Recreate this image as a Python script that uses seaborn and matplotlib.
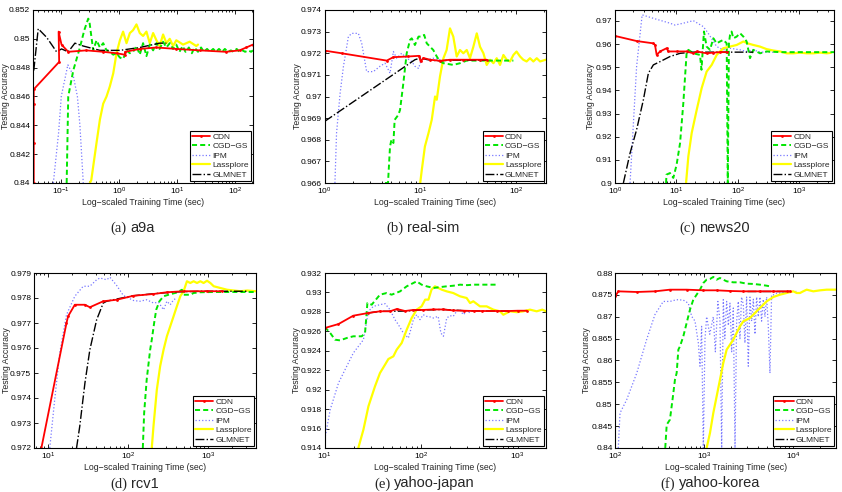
import matplotlib
matplotlib.use("Agg")
import matplotlib.pyplot as plt
import seaborn as sns
import pandas as pd
from matplotlib.ticker import FixedLocator, FuncFormatter, LogLocator, NullFormatter
from matplotlib.lines import Line2D

# ---------------- data (times in sec, testing accuracy) ----------------
methods = ["CDN", "CGD−GS", "IPM", "Lassplore", "GLMNET"]

# (a) a9a
a_cdn_t = [0.0335, 0.0335, 0.0335, 0.0335, 0.092, 0.090, 0.101, 0.132, 0.27, 0.53, 0.90, 1.25, 1.27, 2.27, 4.4, 9.7, 24.5, 70, 120, 157, 204]
a_cdn_y = [0.8400, 0.8428, 0.8455, 0.8465, 0.8484, 0.8505, 0.8496, 0.8491, 0.8492, 0.8491, 0.8490, 0.8489, 0.8491, 0.8493, 0.8494, 0.8493, 0.8492, 0.8491, 0.8492, 0.8494, 0.8496]
a_cgd_t = [0.124, 0.132, 0.161, 0.21, 0.25, 0.292, 0.304, 0.356, 0.407, 0.465, 0.53, 0.605, 0.69, 0.79, 0.90, 1.03, 1.17, 1.34, 1.53, 1.74, 1.99, 2.27, 2.59, 2.96, 3.38, 3.86, 4.4, 5.0, 5.74, 6.55, 7.48, 8.54, 9.7, 11, 12.5, 14, 16, 18, 20, 23, 26, 29, 33, 37, 42, 47, 53, 60, 67, 75, 85, 95, 107, 120, 135, 150, 170, 190, 204]
a_cgd_y = [0.8400, 0.8460, 0.8478, 0.8494, 0.8506, 0.8514, 0.8513, 0.8492, 0.8499, 0.8494, 0.8497, 0.8492, 0.8491, 0.8489, 0.8490, 0.8487, 0.8486, 0.8492, 0.8490, 0.8491, 0.8495, 0.8489, 0.8497, 0.8488, 0.8496, 0.8492, 0.8497, 0.8493, 0.8498, 0.8494, 0.8497, 0.8493, 0.8496, 0.8491, 0.8495, 0.8491, 0.8494, 0.8490, 0.8494, 0.8491, 0.8494, 0.8491, 0.8493, 0.8491, 0.8493, 0.8491, 0.8493, 0.8491, 0.8493, 0.8491, 0.8492, 0.8491, 0.8493, 0.8491, 0.8492, 0.8491, 0.8492, 0.8491, 0.8492]
a_ipm_t = [0.073, 0.09, 0.10, 0.13, 0.16, 0.19, 0.21, 0.24]
a_ipm_y = [0.8400, 0.8435, 0.8460, 0.8482, 0.8475, 0.8460, 0.8440, 0.8400]
a_las_t = [0.312, 0.33, 0.407, 0.465, 0.53, 0.605, 0.69, 0.79, 0.90, 1.03, 1.17, 1.34, 1.53, 1.74, 1.99, 2.27, 2.59, 2.96, 3.38, 3.86, 4.4, 5.0, 5.74, 6.55, 7.48, 8.54, 9.7, 12.7, 16.5, 21.5, 23]
a_las_y = [0.8400, 0.8402, 0.8428, 0.8444, 0.8455, 0.8460, 0.8467, 0.8476, 0.8490, 0.8499, 0.8505, 0.8497, 0.8504, 0.8506, 0.8510, 0.8504, 0.8502, 0.8505, 0.8497, 0.8504, 0.8499, 0.8495, 0.8503, 0.8497, 0.8500, 0.8495, 0.8499, 0.8496, 0.8498, 0.8495, 0.8496]
a_glm_t = [0.0335, 0.040, 0.056, 0.083, 0.101, 0.132, 0.172, 0.24, 0.465, 1.03, 2.27, 5.0, 6.55]
a_glm_y = [0.8478, 0.8507, 0.8501, 0.8491, 0.8493, 0.8491, 0.8497, 0.8495, 0.8492, 0.8492, 0.8494, 0.8497, 0.8497]
a_yticks = [0.84, 0.842, 0.844, 0.846, 0.848, 0.85, 0.852]

# (b) real-sim
b_cdn_t = [1.0, 1.5, 4.46, 5.24, 7.5, 9.7, 10.1, 10.8, 12.7, 16.1, 20.5, 28.3, 42.3, 49.7]
b_cdn_y = [0.97212, 0.9720, 0.97166, 0.97182, 0.97185, 0.97188, 0.97162, 0.97178, 0.9717, 0.97165, 0.9717, 0.9717, 0.9717, 0.9717]
b_cgd_t = [4.28, 4.6, 4.83, 5.0, 5.24, 5.4, 5.9, 6.15, 6.66, 7.22, 7.83, 8.15, 8.8, 9.6, 10.4, 11.0, 11.7, 12.7, 13.7, 14.9, 16.1, 17.5, 22.2, 26.1, 30.7, 42.3, 68.5, 94.5]
b_cgd_y = [0.9660, 0.9660, 0.96769, 0.9680, 0.96785, 0.96892, 0.96915, 0.96938, 0.97062, 0.9720, 0.97262, 0.97269, 0.97238, 0.97277, 0.97277, 0.97285, 0.97246, 0.9723, 0.97215, 0.97185, 0.97162, 0.97154, 0.97146, 0.97154, 0.97166, 0.97166, 0.97166, 0.97166]
b_ipm_t = [1.28, 1.33, 1.45, 1.57, 1.77, 1.92, 2.25, 2.44, 2.75, 3.23, 3.80, 4.28, 4.83, 5.24, 5.67, 6.4, 7.22, 8.15, 8.8, 9.6, 10.4, 11.7, 13.7, 16.1, 18.9]
b_ipm_y = [0.9660, 0.9683, 0.97015, 0.97138, 0.97277, 0.97292, 0.97292, 0.97246, 0.97115, 0.97115, 0.9714, 0.97154, 0.97108, 0.97208, 0.97177, 0.9720, 0.97177, 0.97162, 0.9714, 0.9713, 0.97177, 0.9717, 0.97177, 0.9717, 0.9717]
b_las_t = [10.0, 10.4, 11.2, 12.2, 13.2, 14.3, 14.9, 16.1, 17.5, 18.9, 20.5, 22.2, 24.1, 26.1, 28.3, 30.7, 33.2, 36.0, 39.1, 42.3, 45.9, 49.7, 53.9, 58.4, 63.2, 68.5, 74.3, 80.5, 87.2, 94.5, 102, 111, 120, 130, 141, 153, 166, 180, 206]
b_las_y = [0.9660, 0.96662, 0.96769, 0.9683, 0.96892, 0.9700, 0.96985, 0.97092, 0.97177, 0.97215, 0.97315, 0.97277, 0.97185, 0.97215, 0.9720, 0.97215, 0.97177, 0.9723, 0.97292, 0.9723, 0.9720, 0.97146, 0.9717, 0.97154, 0.97177, 0.97146, 0.97192, 0.9717, 0.97162, 0.97192, 0.97208, 0.97185, 0.9717, 0.97162, 0.97177, 0.97162, 0.97177, 0.97162, 0.9717]
b_glm_t = [1.0, 8.8, 10.0, 12.7, 16.1, 20.5, 28.3, 42.3, 49.7]
b_glm_y = [0.96885, 0.9717, 0.97178, 0.97168, 0.97165, 0.97168, 0.97168, 0.97168, 0.97168]
b_yticks = [0.966, 0.967, 0.968, 0.969, 0.97, 0.971, 0.972, 0.973, 0.974]

# (c) news20
c_cdn_t = [1.0, 2.25, 4.22, 4.49, 4.78, 5.42, 6.95, 7.4, 10.1, 14.7, 18.9, 21.5, 31.2, 40.1, 51.5, 66.2]
c_cdn_y = [0.9635, 0.9613, 0.9603, 0.9596, 0.9553, 0.9568, 0.9582, 0.9568, 0.9568, 0.9568, 0.9560, 0.9568, 0.9560, 0.9563, 0.9565, 0.9565]
c_cgd_t = [6.8, 6.9, 7.88, 8.93, 10.1, 11.5, 13.0, 14.7, 15.7, 18.9, 24.3, 25.7, 28.2, 31.2, 35.4, 40.1, 45.5, 51.5, 58.4, 66.2, 69.0, 72.0, 75, 79.5, 85, 96.3, 109, 124, 140, 159, 180, 231, 297, 490, 809, 1333, 2200, 3720]
c_cgd_y = [0.900, 0.9036, 0.9043, 0.9022, 0.9079, 0.9172, 0.9345, 0.956, 0.9575, 0.956, 0.9553, 0.9489, 0.9654, 0.9589, 0.9575, 0.9625, 0.9603, 0.9611, 0.9618, 0.9603, 0.900, 0.9603, 0.9639, 0.9654, 0.9625, 0.9632, 0.9647, 0.9632, 0.9611, 0.9539, 0.9575, 0.956, 0.9568, 0.9565, 0.9565, 0.9565, 0.9565, 0.9565]
c_ipm_t = [1.76, 2.25, 2.77, 4.22, 7.88, 9.5, 13.0, 18.9, 27.6, 33, 45.5, 58.4, 75, 109, 140, 180, 231, 297, 382]
c_ipm_y = [0.900, 0.9503, 0.9726, 0.9711, 0.9690, 0.9682, 0.9690, 0.9701, 0.9675, 0.9647, 0.9589, 0.9575, 0.9582, 0.9575, 0.9568, 0.9575, 0.9565, 0.9565, 0.9565]
c_las_t = [14.4, 15.7, 17.8, 21.5, 25.9, 31.2, 37.7, 45.5, 58.4, 75, 96.3, 124, 145, 180, 231, 297, 382, 490, 630, 809, 1040, 1333, 1713, 2200, 2825, 3300]
c_las_y = [0.900, 0.9115, 0.9216, 0.9316, 0.941, 0.9481, 0.951, 0.9553, 0.9582, 0.9589, 0.9596, 0.9611, 0.9603, 0.9596, 0.9589, 0.9578, 0.9572, 0.9568, 0.956, 0.956, 0.9563, 0.956, 0.956, 0.9563, 0.956, 0.9562]
c_glm_t = [1.37, 1.76, 2.25, 2.90, 3.5, 4.22, 5.42, 7.88, 11.5, 18.9, 35.4, 66.2, 140, 180]
c_glm_y = [0.900, 0.9129, 0.923, 0.9359, 0.9474, 0.951, 0.9524, 0.9546, 0.956, 0.9565, 0.9565, 0.9565, 0.9565, 0.9565]
c_yticks = [0.9, 0.91, 0.92, 0.93, 0.94, 0.95, 0.96, 0.97]

# (d) rcv1
d_cdn_t = [8.25, 17.0, 17.8, 21.6, 28.9, 33.3, 49.0, 72.1, 117, 208, 306, 495, 971, 1500]
d_cdn_y = [0.9720, 0.9770, 0.97727, 0.97773, 0.97773, 0.97763, 0.97787, 0.97793, 0.97809, 0.97816, 0.97823, 0.97827, 0.97827, 0.97827]
d_cgd_t = [153, 159, 171, 189, 198, 212, 225, 247, 278, 337, 408, 472, 495, 600, 661, 801, 1178, 2100, 3980]
d_cgd_y = [0.9720, 0.9734, 0.97473, 0.97593, 0.97633, 0.9770, 0.97753, 0.97787, 0.97807, 0.97815, 0.97822, 0.97833, 0.97813, 0.97813, 0.9782, 0.97823, 0.97824, 0.97824, 0.97824]
d_ipm_t = [10.5, 12.1, 14.0, 17.0, 21.6, 27.5, 33.3, 40.5, 44.5, 54.0, 59.4, 72.1, 87.4, 117, 141, 171, 208, 240, 278, 306, 337, 371, 408]
d_ipm_y = [0.9720, 0.97393, 0.9758, 0.97733, 0.97807, 0.97847, 0.97847, 0.97873, 0.9788, 0.97873, 0.97883, 0.9785, 0.9781, 0.9779, 0.97787, 0.97793, 0.9778, 0.97783, 0.97753, 0.97787, 0.97773, 0.97793, 0.978]
d_las_t = [198, 208, 229, 252, 278, 306, 337, 371, 408, 450, 495, 545, 600, 661, 728, 801, 880, 971, 1070, 1178, 1428, 1731, 2100, 2546, 3089, 3980]
d_las_y = [0.9720, 0.97287, 0.97433, 0.97527, 0.97593, 0.97647, 0.97687, 0.97727, 0.97767, 0.97807, 0.97827, 0.97867, 0.9786, 0.97867, 0.9786, 0.97867, 0.9786, 0.97869, 0.9786, 0.97847, 0.9784, 0.97833, 0.9783, 0.97827, 0.9783, 0.97827]
d_glm_t = [22.7, 24.9, 28.9, 33.3, 40.5, 49.0, 54.0, 72.1, 117, 208, 371, 801, 1731, 3089]
d_glm_y = [0.9720, 0.97287, 0.9746, 0.97593, 0.97713, 0.9778, 0.97787, 0.97796, 0.97809, 0.97817, 0.97824, 0.97827, 0.97827, 0.97827]
d_yticks = [0.972, 0.973, 0.974, 0.975, 0.976, 0.977, 0.978, 0.979]

# (e) yahoo-japan
e_cdn_t = [10, 13.9, 19.8, 28.4, 37.4, 47.5, 56, 68, 82.9, 105, 134, 170, 215, 280, 350, 430, 606, 800, 1000, 1250]
e_cdn_y = [0.92634, 0.92675, 0.92761, 0.92789, 0.92806, 0.92806, 0.9283, 0.92809, 0.9282, 0.9282, 0.92825, 0.92825, 0.92815, 0.92812, 0.92809, 0.92809, 0.92809, 0.92809, 0.92812, 0.92812]
e_cgd_t = [10, 11.4, 12.8, 14.4, 16.9, 19.8, 24.2, 26.2, 27.7, 30.7, 37.4, 43.9, 49.4, 60.4, 70.8, 82.9, 89.8, 101, 114, 134, 157, 184, 215, 253, 300, 347, 407, 477, 606]
e_cgd_y = [0.92645, 0.92583, 0.92514, 0.92507, 0.92531, 0.92549, 0.92549, 0.92583, 0.92891, 0.92874, 0.92977, 0.92994, 0.92977, 0.93011, 0.93063, 0.93097, 0.93114, 0.9308, 0.93063, 0.93046, 0.93055, 0.93063, 0.93069, 0.9308, 0.93075, 0.9308, 0.9308, 0.9308, 0.9308]
e_ipm_t = [10, 11.4, 13.9, 16.9, 19.8, 25.2, 28.4, 31.9, 37.4, 42.2, 47.5, 53.5, 58, 65.3, 73.6, 78, 82.9, 89.8, 97.2, 105, 114, 124, 134, 150, 160, 170, 184, 199, 215, 233, 253, 273, 300, 321]
e_ipm_y = [0.91486, 0.91794, 0.92069, 0.9224, 0.92377, 0.92514, 0.92806, 0.92857, 0.92874, 0.92885, 0.92823, 0.9272, 0.92669, 0.92583, 0.92531, 0.92617, 0.9272, 0.92771, 0.9272, 0.92771, 0.92754, 0.92748, 0.92737, 0.92754, 0.92583, 0.92549, 0.92737, 0.92761, 0.92754, 0.92806, 0.92823, 0.92771, 0.92812, 0.92789]
e_las_t = [22.3, 25.2, 28.4, 33.2, 37.4, 42.2, 45.7, 51.5, 55.7, 62.8, 70.8, 79.7, 89.8, 101, 110, 119, 128, 139, 151, 163, 184, 215, 253, 296, 321, 347, 407, 477, 560, 656, 710, 833, 977, 1146, 1343, 1574, 1800, 1967]
e_las_y = [0.9140, 0.91589, 0.91829, 0.92034, 0.92171, 0.92257, 0.92315, 0.92343, 0.92411, 0.9248, 0.92617, 0.92737, 0.92823, 0.92857, 0.92926, 0.92926, 0.93029, 0.93063, 0.93046, 0.93029, 0.93011, 0.92994, 0.9296, 0.92943, 0.92891, 0.92909, 0.92857, 0.92857, 0.92823, 0.92806, 0.92771, 0.92806, 0.92797, 0.92806, 0.92823, 0.92806, 0.92823, 0.92806]
e_glm_t = [28.4, 37.4, 47.5, 68, 105, 170, 280, 430, 606, 800]
e_glm_y = [0.92789, 0.92806, 0.92806, 0.92809, 0.9282, 0.92825, 0.92812, 0.92809, 0.92809, 0.92809]
e_yticks = [0.914, 0.916, 0.918, 0.92, 0.922, 0.924, 0.926, 0.928, 0.93, 0.932]

# (f) yahoo-korea
f_cdn_t = [100, 108, 174, 279, 411, 633, 975, 1376, 1942, 2741, 4219, 5956, 8409, 9100]
f_cdn_y = [0.87467, 0.87581, 0.87566, 0.87581, 0.87619, 0.87619, 0.87604, 0.87604, 0.87589, 0.87581, 0.87581, 0.87581, 0.87581, 0.87581]
f_cgd_t = [364, 378, 411, 449, 468, 489, 511, 533, 581, 633, 690, 752, 820, 894, 975, 1062, 1158, 1262, 1376, 1500, 1782, 2117, 2515, 2988, 3555, 4219, 5013, 5464]
f_cgd_y = [0.8400, 0.84533, 0.84648, 0.85257, 0.85562, 0.85714, 0.86248, 0.86324, 0.86552, 0.86857, 0.87162, 0.8739, 0.87505, 0.87619, 0.87771, 0.87848, 0.87863, 0.8791, 0.87848, 0.87886, 0.8781, 0.87787, 0.87787, 0.87756, 0.8775, 0.87733, 0.8771, 0.87695]
f_ipm_t = [108, 113, 134, 174, 225, 279, 346, 411, 489, 581, 661, 721, 786, 857, 894, 933, 975, 1017, 1062, 1150, 1262, 1330, 1420, 1500, 1567, 1634, 1700, 1782, 1862, 1942, 2030, 2117, 2213, 2307, 2410, 2515, 2620, 2741, 2860, 2988, 3120, 3257, 3400, 3555, 3710, 3871, 4040, 4219, 4400, 4599, 4800, 5013, 5230, 5464, 5700, 5956, 6500, 7077, 8409, 10000, 10800]
f_ipm_y = [0.8400, 0.8480, 0.8510, 0.8571, 0.8648, 0.8705, 0.8735, 0.8735, 0.8739, 0.8738, 0.8731, 0.8701, 0.8690, 0.8640, 0.8587, 0.8678, 0.8400, 0.8648, 0.8700, 0.8660, 0.8700, 0.8620, 0.8735, 0.8690, 0.8400, 0.8739, 0.8650, 0.8735, 0.8680, 0.8731, 0.8620, 0.8720, 0.8400, 0.8690, 0.8735, 0.8650, 0.8745, 0.8728, 0.8640, 0.8745, 0.8587, 0.8745, 0.8690, 0.8740, 0.8660, 0.8745, 0.8700, 0.8745, 0.8690, 0.8740, 0.8700, 0.8745, 0.8680, 0.8571, 0.8750, 0.8750, 0.8754, 0.8754, 0.8756, 0.8758, 0.8758]
f_las_t = [1062, 1158, 1262, 1376, 1500, 1634, 1782, 1942, 2117, 2307, 2515, 2741, 2988, 3257, 3555, 3871, 4219, 4599, 5013, 5956, 7077, 8409, 10000, 10900, 11885, 12900, 14125, 16787, 19952, 23714, 30400]
f_las_y = [0.8400, 0.84343, 0.8480, 0.85181, 0.85562, 0.85943, 0.86248, 0.86362, 0.86476, 0.86629, 0.86781, 0.86895, 0.86933, 0.86971, 0.87048, 0.87124, 0.8720, 0.87276, 0.87352, 0.87451, 0.87505, 0.87543, 0.87581, 0.87543, 0.87543, 0.87581, 0.87619, 0.87581, 0.87604, 0.87619, 0.87619]
f_glm_t = [2988, 4219, 5956, 8409, 9500]
f_glm_y = [0.87581, 0.87581, 0.87581, 0.87581, 0.87581]
f_yticks = [0.84, 0.845, 0.85, 0.855, 0.86, 0.865, 0.87, 0.875, 0.88]

# captions
cap_tags = ["(a)", "(b)", "(c)", "(d)", "(e)", "(f)"]
cap_names = ["a9a", "real-sim", "news20", "rcv1", "yahoo-japan", "yahoo-korea"]

# ---------------- style / layout ----------------
sns.set_theme(style="white")
plt.rcParams["font.family"] = ["Liberation Sans", "DejaVu Sans"]
plt.rcParams["mathtext.default"] = "regular"

W, H = 842, 492
fig = plt.figure(figsize=(W / 100, H / 100), dpi=100)
fig.patch.set_facecolor("white")

styles = {
    "CDN": dict(color="#ff0000", linestyle="-", linewidth=1.3, marker=".", markersize=4, markeredgewidth=0),
    "CGD−GS": dict(color="#00e600", linestyle=(0, (2.6, 1.6)), linewidth=1.4),
    "IPM": dict(color="#7878ff", linestyle=":", linewidth=0.9),
    "Lassplore": dict(color="#ffff00", linestyle="-", linewidth=1.6),
    "GLMNET": dict(color="black", linestyle="-.", linewidth=1.0),
}
draw_order = ["IPM", "Lassplore", "CGD−GS", "GLMNET", "CDN"]

# 'lab' = distance (px) from the axis to the right edge of the y label
panels = [
    dict(rect=(33, 253, 10, 183), xlim=(0.0325, 205), ylim=(0.84, 0.852), yt=a_yticks, lab=22.5,
         data={"CDN": (a_cdn_t, a_cdn_y), "CGD−GS": (a_cgd_t, a_cgd_y), "IPM": (a_ipm_t, a_ipm_y),
               "Lassplore": (a_las_t, a_las_y), "GLMNET": (a_glm_t, a_glm_y)}),
    dict(rect=(324.7, 545.7, 10, 183), xlim=(1, 206), ylim=(0.966, 0.974), yt=b_yticks, lab=23,
         data={"CDN": (b_cdn_t, b_cdn_y), "CGD−GS": (b_cgd_t, b_cgd_y), "IPM": (b_ipm_t, b_ipm_y),
               "Lassplore": (b_las_t, b_las_y), "GLMNET": (b_glm_t, b_glm_y)}),
    dict(rect=(615, 834, 10, 183), xlim=(1, 3720), ylim=(0.9, 0.9747), yt=c_yticks, lab=20,
         data={"CDN": (c_cdn_t, c_cdn_y), "CGD−GS": (c_cgd_t, c_cgd_y), "IPM": (c_ipm_t, c_ipm_y),
               "Lassplore": (c_las_t, c_las_y), "GLMNET": (c_glm_t, c_glm_y)}),
    dict(rect=(34, 256, 273, 448), xlim=(6.67, 3980), ylim=(0.972, 0.979), yt=d_yticks, lab=22.5,
         data={"CDN": (d_cdn_t, d_cdn_y), "CGD−GS": (d_cgd_t, d_cgd_y), "IPM": (d_ipm_t, d_ipm_y),
               "Lassplore": (d_las_t, d_las_y), "GLMNET": (d_glm_t, d_glm_y)}),
    dict(rect=(324.7, 546, 273, 448), xlim=(10, 1967), ylim=(0.914, 0.932), yt=e_yticks, lab=23.5,
         data={"CDN": (e_cdn_t, e_cdn_y), "CGD−GS": (e_cgd_t, e_cgd_y), "IPM": (e_ipm_t, e_ipm_y),
               "Lassplore": (e_las_t, e_las_y), "GLMNET": (e_glm_t, e_glm_y)}),
    dict(rect=(615.3, 836.3, 273, 448), xlim=(100, 30400), ylim=(0.84, 0.88), yt=f_yticks, lab=24,
         data={"CDN": (f_cdn_t, f_cdn_y), "CGD−GS": (f_cgd_t, f_cgd_y), "IPM": (f_ipm_t, f_ipm_y),
               "Lassplore": (f_las_t, f_las_y), "GLMNET": (f_glm_t, f_glm_y)}),
]

cap_pos = [(110, 232), (386, 232), (679, 232), (110, 487.5), (374, 487.5), (660, 487.5)]

gfmt = FuncFormatter(lambda v, _: f"{v:g}")

for p in panels:
    x0, x1, yt_, yb_ = p["rect"]
    wpx = x1 - x0
    ax = fig.add_axes([x0 / W, 1 - yb_ / H, wpx / W, (yb_ - yt_) / H])
    ax.set_facecolor("white")
    for m in draw_order:
        t, y = p["data"][m]
        df = pd.DataFrame({"time": t, "acc": y})
        sns.lineplot(data=df, x="time", y="acc", ax=ax, sort=False, estimator=None,
                     legend=False, **styles[m])
    ax.set_xscale("log")
    ax.set_xlim(*p["xlim"])
    ax.set_ylim(*p["ylim"])
    ax.yaxis.set_major_locator(FixedLocator(p["yt"]))
    ax.yaxis.set_major_formatter(gfmt)
    ax.xaxis.set_major_locator(LogLocator(base=10))
    ax.xaxis.set_minor_locator(LogLocator(base=10, subs=[2, 3, 4, 5, 6, 7, 8, 9]))
    ax.xaxis.set_minor_formatter(NullFormatter())
    ax.tick_params(which="both", direction="in", top=True, right=True, bottom=True, left=True,
                   colors="black", labelsize=6, pad=2, width=0.6)
    ax.tick_params(which="major", length=3)
    ax.tick_params(which="minor", length=1.6)
    for s in ax.spines.values():
        s.set_color("black")
        s.set_linewidth(0.8)
    ax.set_xlabel("Log−scaled Training Time (sec)", fontsize=6.3, labelpad=1)
    ax.set_ylabel("Testing Accuracy", fontsize=6.3)
    ax.yaxis.set_label_coords(-p["lab"] / wpx, 0.5)
    handles = [Line2D([], [], **styles[m]) for m in methods]
    leg = ax.legend(handles, methods, loc="lower right", fontsize=6, frameon=True, fancybox=False,
                    edgecolor="black", framealpha=1, borderpad=0.25, labelspacing=0.2,
                    handlelength=2.2, handletextpad=0.25, borderaxespad=0.25)
    leg.get_frame().set_linewidth(0.8)

fig.canvas.draw()
r = fig.canvas.get_renderer()
for (cx, cy), tag, name in zip(cap_pos, cap_tags, cap_names):
    t1 = fig.text(cx / W, 1 - cy / H, tag, family="Liberation Serif", fontsize=10.5,
                  ha="left", va="baseline")
    bb = t1.get_window_extent(r)
    fig.text((bb.x1 + 4) / W, 1 - cy / H, name, family="Liberation Sans", fontsize=10.5,
             ha="left", va="baseline")

fig.savefig("out.png", dpi=100, facecolor="white")
